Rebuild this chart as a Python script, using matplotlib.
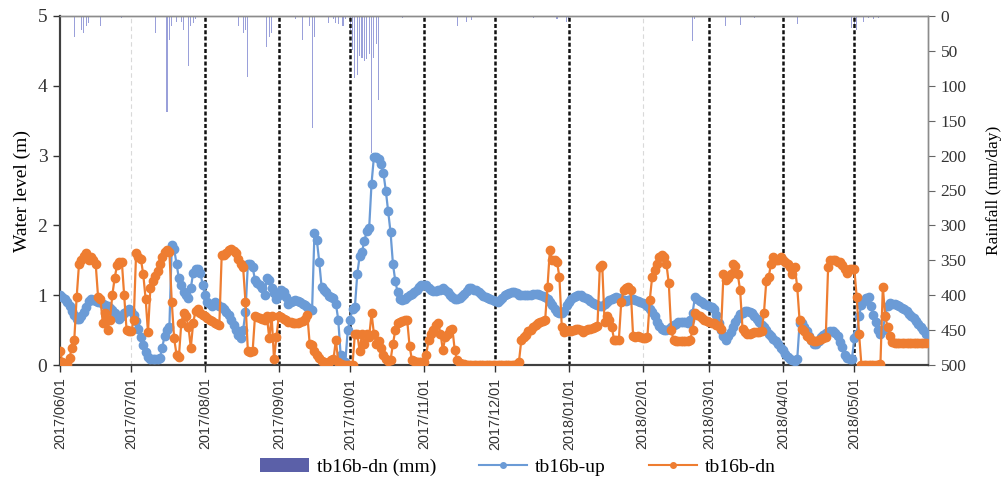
import pandas as pd
import matplotlib
matplotlib.use('Agg')
import matplotlib.pyplot as plt
import matplotlib.dates as mdates
from matplotlib.patches import Patch
from matplotlib.lines import Line2D

# daily water level (m), 2017/06/01 - 2018/05/31, one line per month
tb16b_up = (
    [1.0, 0.98, 0.95, 0.9, 0.85, 0.78, 0.72, 0.66, 0.66, 0.7, 0.76, 0.83, 0.92, 0.95, 0.93, 0.92, 0.9, 0.9, 0.88, 0.86, 0.84, 0.82, 0.79, 0.75, 0.7, 0.66, 0.7, 0.75, 0.78, 0.8]
    + [0.77, 0.72, 0.63, 0.52, 0.4, 0.28, 0.18, 0.12, 0.09, 0.08, 0.08, 0.08, 0.1, 0.25, 0.42, 0.5, 0.55, 1.72, 1.66, 1.45, 1.24, 1.14, 1.05, 1.0, 0.96, 1.1, 1.32, 1.38, 1.37, 1.32, 1.15]
    + [1.0, 0.9, 0.87, 0.85, 0.9, 0.88, 0.85, 0.83, 0.8, 0.76, 0.71, 0.64, 0.57, 0.5, 0.43, 0.39, 0.5, 0.76, 1.45, 1.45, 1.4, 1.22, 1.18, 1.15, 1.1, 1.0, 1.25, 1.22, 1.1, 1.03, 0.95]
    + [1.0, 1.07, 1.04, 0.98, 0.88, 0.9, 0.92, 0.93, 0.92, 0.9, 0.88, 0.86, 0.83, 0.8, 0.79, 1.89, 1.79, 1.48, 1.12, 1.08, 1.04, 0.99, 0.98, 0.96, 0.88, 0.65, 0.15, 0.0, 0.05, 0.5]
    + [0.65, 0.8, 0.83, 1.3, 1.56, 1.62, 1.78, 1.92, 1.96, 2.6, 2.98, 2.98, 2.95, 2.88, 2.75, 2.5, 2.2, 1.9, 1.45, 1.2, 1.04, 0.95, 0.93, 0.95, 0.97, 1.0, 1.02, 1.05, 1.08, 1.12, 1.15]
    + [1.15, 1.14, 1.1, 1.07, 1.06, 1.06, 1.07, 1.08, 1.1, 1.08, 1.04, 1.0, 0.98, 0.95, 0.94, 0.96, 0.99, 1.02, 1.06, 1.1, 1.1, 1.08, 1.07, 1.05, 1.02, 0.99, 0.97, 0.96, 0.95, 0.93]
    + [0.91, 0.9, 0.93, 0.96, 1.0, 1.02, 1.03, 1.05, 1.05, 1.03, 1.01, 1.0, 1.0, 1.0, 1.0, 1.01, 1.02, 1.02, 1.02, 1.01, 0.99, 0.98, 0.95, 0.9, 0.86, 0.8, 0.76, 0.74, 0.74, 0.78, 0.86]
    + [0.9, 0.94, 0.97, 0.99, 1.0, 1.0, 0.98, 0.96, 0.95, 0.92, 0.89, 0.87, 0.86, 0.85, 0.85, 0.87, 0.9, 0.93, 0.95, 0.96, 0.97, 0.96, 0.94, 0.93, 0.92, 0.93, 0.95, 0.95, 0.93, 0.92, 0.9]
    + [0.89, 0.88, 0.84, 0.8, 0.76, 0.7, 0.62, 0.56, 0.52, 0.5, 0.5, 0.52, 0.55, 0.57, 0.59, 0.61, 0.62, 0.62, 0.61, 0.6, 0.65, 0.75, 0.97, 0.95, 0.92, 0.9, 0.88, 0.86]
    + [0.85, 0.83, 0.8, 0.72, 0.6, 0.5, 0.42, 0.36, 0.42, 0.47, 0.55, 0.62, 0.68, 0.73, 0.75, 0.77, 0.78, 0.76, 0.74, 0.7, 0.66, 0.62, 0.58, 0.54, 0.5, 0.45, 0.41, 0.37, 0.34, 0.3, 0.25]
    + [0.21, 0.16, 0.12, 0.08, 0.07, 0.06, 0.08, 0.6, 0.6, 0.55, 0.48, 0.42, 0.36, 0.3, 0.3, 0.35, 0.4, 0.43, 0.46, 0.47, 0.49, 0.49, 0.46, 0.42, 0.33, 0.26, 0.15, 0.1, 0.08, 0.08]
    + [0.38, 0.45, 0.7, 0.86, 0.92, 0.96, 0.97, 0.85, 0.72, 0.62, 0.5, 0.45, 0.5, 0.7, 0.85, 0.89, 0.88, 0.87, 0.86, 0.84, 0.82, 0.8, 0.77, 0.73, 0.7, 0.67, 0.63, 0.59, 0.55, 0.5, 0.45]
)

tb16b_dn = (
    [0.2, 0.05, 0.0, 0.02, 0.1, 0.25, 0.36, 0.97, 1.45, 1.5, 1.56, 1.6, 1.5, 1.55, 1.5, 1.45, 0.98, 0.95, 0.6, 0.75, 0.5, 0.65, 1.0, 1.25, 1.43, 1.47, 1.48, 1.0, 0.5, 0.48]
    + [0.48, 0.64, 1.6, 1.55, 1.52, 1.3, 0.95, 0.47, 1.1, 1.2, 1.28, 1.35, 1.45, 1.55, 1.62, 1.65, 1.62, 0.9, 0.38, 0.15, 0.12, 0.6, 0.75, 0.7, 0.55, 0.25, 0.6, 0.78, 0.8, 0.75, 0.72]
    + [0.7, 0.67, 0.65, 0.63, 0.6, 0.59, 0.58, 1.58, 1.57, 1.6, 1.65, 1.66, 1.63, 1.6, 1.52, 1.45, 1.4, 0.9, 0.2, 0.18, 0.2, 0.7, 0.69, 0.68, 0.66, 0.65, 0.7, 0.38, 0.7, 0.08, 0.4]
    + [0.7, 0.69, 0.66, 0.64, 0.62, 0.61, 0.6, 0.6, 0.6, 0.61, 0.63, 0.66, 0.72, 0.3, 0.28, 0.2, 0.15, 0.1, 0.06, 0.04, 0.03, 0.05, 0.07, 0.08, 0.36, 0.05, 0.02, 0.0, 0.0, 0.0]
    + [0.0, 0.0, 0.45, 0.45, 0.2, 0.45, 0.3, 0.45, 0.4, 0.74, 0.45, 0.3, 0.35, 0.25, 0.15, 0.08, 0.06, 0.07, 0.3, 0.5, 0.6, 0.62, 0.63, 0.64, 0.64, 0.27, 0.07, 0.06, 0.05, 0.05, 0.05]
    + [0.05, 0.15, 0.36, 0.45, 0.5, 0.57, 0.6, 0.45, 0.21, 0.4, 0.45, 0.5, 0.52, 0.21, 0.07, 0.03, 0.02, 0.01, 0.0, 0.0, 0.0, 0.0, 0.0, 0.0, 0.0, 0.0, 0.0, 0.0, 0.0, 0.0]
    + [0.0, 0.0, 0.0, 0.0, 0.0, 0.0, 0.0, 0.0, 0.0, 0.02, 0.05, 0.36, 0.4, 0.43, 0.48, 0.5, 0.54, 0.57, 0.6, 0.62, 0.63, 0.64, 1.12, 1.65, 1.5, 1.5, 1.48, 1.26, 0.55, 0.47, 0.48]
    + [0.5, 0.49, 0.5, 0.51, 0.52, 0.5, 0.47, 0.5, 0.52, 0.52, 0.53, 0.55, 0.56, 1.4, 1.43, 0.62, 0.7, 0.64, 0.55, 0.36, 0.36, 0.36, 0.9, 1.07, 1.1, 1.12, 1.07, 0.41, 0.4, 0.41, 0.4]
    + [0.39, 0.38, 0.4, 0.93, 1.26, 1.36, 1.45, 1.55, 1.58, 1.55, 1.45, 1.17, 0.5, 0.36, 0.35, 0.34, 0.34, 0.34, 0.34, 0.35, 0.36, 0.5, 0.74, 0.72, 0.7, 0.68, 0.65, 0.63]
    + [0.62, 0.6, 0.6, 0.58, 0.56, 0.52, 1.3, 1.22, 1.25, 1.3, 1.45, 1.42, 1.3, 1.07, 0.52, 0.47, 0.45, 0.45, 0.46, 0.47, 0.47, 0.47, 0.48, 0.74, 1.2, 1.26, 1.45, 1.55, 1.5, 1.5, 1.55]
    + [1.5, 1.47, 1.45, 1.4, 1.3, 1.4, 1.12, 0.64, 0.52, 0.48, 0.42, 0.4, 0.36, 0.34, 0.35, 0.36, 0.37, 0.38, 0.4, 1.4, 1.5, 1.5, 1.5, 1.48, 1.47, 1.43, 1.38, 1.32, 1.38, 1.38]
    + [1.38, 0.98, 0.45, 0.0, 0.0, 0.0, 0.0, 0.0, 0.0, 0.0, 0.0, 0.02, 1.12, 0.7, 0.55, 0.41, 0.33, 0.31, 0.31, 0.31, 0.31, 0.31, 0.31, 0.31, 0.31, 0.31, 0.31, 0.31, 0.31, 0.31, 0.31]
)

# rainy days only (mm/day)
rain_dates = ['2017-06-07', '2017-06-10', '2017-06-11', '2017-06-12', '2017-06-13', '2017-06-18', '2017-06-27',
              '2017-07-11', '2017-07-16', '2017-07-17', '2017-07-18', '2017-07-20', '2017-07-22', '2017-07-23',
              '2017-07-25', '2017-07-26', '2017-07-27', '2017-07-28',
              '2017-08-15', '2017-08-17', '2017-08-18', '2017-08-19', '2017-08-27', '2017-08-28', '2017-08-29',
              '2017-09-08', '2017-09-11', '2017-09-14', '2017-09-15', '2017-09-16', '2017-09-22', '2017-09-24',
              '2017-09-25', '2017-09-26', '2017-09-28', '2017-09-29',
              '2017-10-01', '2017-10-02', '2017-10-03', '2017-10-04', '2017-10-05', '2017-10-06', '2017-10-07',
              '2017-10-08', '2017-10-09', '2017-10-10', '2017-10-11', '2017-10-12', '2017-10-13', '2017-10-23',
              '2017-11-15', '2017-11-19', '2017-11-21', '2017-12-17', '2017-12-27', '2017-12-31', '2018-01-01',
              '2018-02-22', '2018-02-23', '2018-03-08', '2018-03-14', '2018-03-20', '2018-04-07', '2018-04-30',
              '2018-05-01', '2018-05-02', '2018-05-05', '2018-05-07', '2018-05-09', '2018-05-11']
rain_mm = [30, 20, 25, 15, 10, 15, 3,
           25, 137, 34, 15, 8, 9, 20,
           72, 15, 10, 5,
           15, 25, 20, 87, 44, 30, 25,
           5, 34, 15, 160, 30, 10, 5,
           10, 12, 15, 5,
           20, 49, 89, 85, 58, 60, 65,
           62, 55, 196, 60, 40, 120, 3,
           15, 8, 6, 3, 5, 8, 5,
           36, 5, 15, 13, 3, 12, 17,
           15, 20, 8, 3, 4, 3]

dark_lines = ['2017-08-01', '2017-09-01', '2017-10-01', '2017-11-01', '2017-12-01',
              '2018-01-01', '2018-03-01', '2018-04-01', '2018-05-01']
light_lines = ['2017-07-01', '2018-02-01']

assert len(tb16b_up) == 365 and len(tb16b_dn) == 365
dates = pd.date_range('2017-06-01', periods=len(tb16b_up), freq='D')

c_up = '#6B9BD6'
c_dn = '#EE7D31'
c_rain = '#9AA0DA'

fig = plt.figure(figsize=(10.06, 4.93), dpi=100)
ax = fig.add_axes([60 / 1006, 128 / 493, 868 / 1006, 349 / 493])
ax2 = ax.twinx()

# rainfall bars hanging from the top
ax2.bar(pd.to_datetime(rain_dates), rain_mm, width=0.45, color=c_rain, linewidth=0)
ax2.set_ylim(500, 0)
ax2.set_yticks(range(0, 501, 50))

for d in light_lines:
    ax.axvline(pd.Timestamp(d), color='#d9d9d9', lw=0.8, ls=(0, (4, 3)), zorder=1)
for d in dark_lines:
    ax.axvline(pd.Timestamp(d), color='#111111', lw=1.8, ls=(0, (1.6, 0.9)), zorder=1)

ax.plot(dates, tb16b_up, color=c_up, lw=1.6, marker='o', ms=6, zorder=3)
ax.plot(dates, tb16b_dn, color=c_dn, lw=1.6, marker='o', ms=6, zorder=4)

ax.set_zorder(ax2.get_zorder() + 1)
ax.patch.set_visible(False)

ax.set_ylim(0, 5)
ax.set_yticks(range(0, 6))
ax.set_xlim(dates[0], dates[0] + pd.Timedelta(days=365))
ax.set_xticks(pd.date_range('2017-06-01', '2018-05-01', freq='MS'))
ax.xaxis.set_major_formatter(mdates.DateFormatter('%Y/%m/%d'))

serif = 'Liberation Serif'
for lab in ax.get_yticklabels():
    lab.set_fontfamily(serif)
    lab.set_fontsize(14)
for lab in ax2.get_yticklabels():
    lab.set_fontfamily(serif)
    lab.set_fontsize(12.5)
for lab in ax.get_xticklabels():
    lab.set_fontfamily('Liberation Sans')
    lab.set_fontsize(10.4)
    lab.set_rotation(90)
    lab.set_color('#404040')

ax.tick_params(axis='y', direction='out', length=5, width=1, colors='#333333', pad=4)
ax.tick_params(axis='x', direction='out', length=5, width=1, colors='#333333', pad=4)
ax2.tick_params(axis='y', direction='out', length=5, width=0.8, colors='#666666', pad=4)
for lab in ax2.get_yticklabels():
    lab.set_color('#333333')

ax.set_ylabel('Water level (m)', fontfamily=serif, fontsize=14, labelpad=5)
ax2.set_ylabel('Rainfall (mm/day)', fontfamily=serif, fontsize=12.5, labelpad=14)

for a in (ax, ax2):
    a.spines['left'].set_color('#404040')
    a.spines['left'].set_linewidth(1.5)
    a.spines['bottom'].set_color('#404040')
    a.spines['bottom'].set_linewidth(1.5)
    a.spines['top'].set_color('#8c8c8c')
    a.spines['top'].set_linewidth(1.0)
    a.spines['right'].set_color('#8c8c8c')
    a.spines['right'].set_linewidth(1.0)

handles = [Patch(facecolor='#5B60A8', edgecolor='none'),
           Line2D([], [], color=c_up, lw=1.5, marker='o', ms=4),
           Line2D([], [], color=c_dn, lw=1.5, marker='o', ms=4)]
labels = ['tb16b-dn (mm)', 'tb16b-up', 'tb16b-dn']
fig.legend(handles, labels, loc='center', bbox_to_anchor=(0.515, 0.053), ncol=3,
           frameon=False, prop={'family': serif, 'size': 14}, handlelength=2.5,
           columnspacing=2.2, handletextpad=0.4)

fig.savefig('out.png', dpi=100)
